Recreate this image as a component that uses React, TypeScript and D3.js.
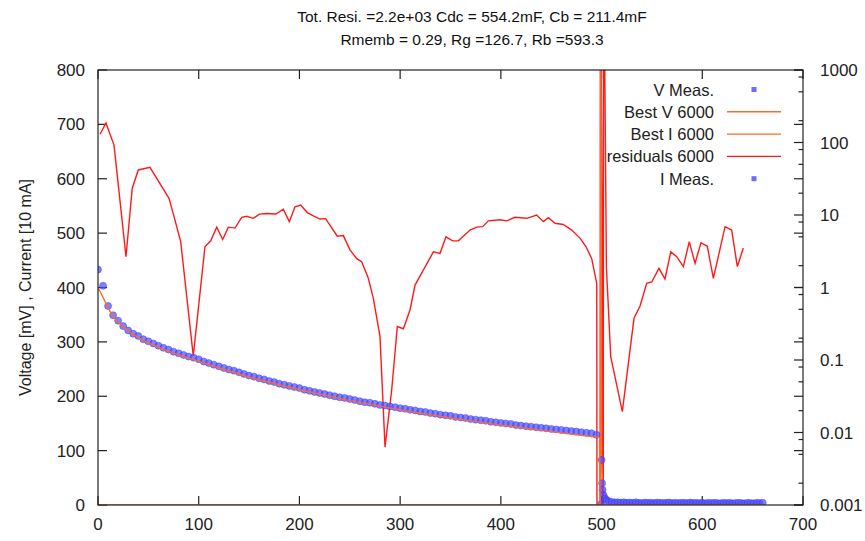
import * as d3 from "d3";

// measured voltage, one sample every 5 s from t = 0
const vMeas = [
  433, 403, 366, 349, 339, 329, 321, 315, 311, 305, 301, 297, 293, 289, 286, 282, 279, 276, 273, 271,
  268, 264, 261, 258, 255, 252, 249, 247, 244, 241, 238, 236, 233, 231, 228, 226, 223, 221, 219, 217,
  215, 212, 210, 208, 206, 204, 202, 200, 198, 197, 195, 193, 191, 189, 188, 186, 184, 183, 181, 180,
  178, 177, 175, 174, 172, 171, 169, 168, 166, 165, 164, 162, 161, 160, 158, 157, 156, 155, 153, 152,
  151, 150, 149, 147, 146, 145, 144, 143, 142, 141, 140, 139, 138, 137, 136, 135, 134, 133, 132, 129,
];

// measured current head [t, value], then a tail sampled every 3 s from t = 516
const iHead: [number, number][] = [
  [499.5, 2], [500, 83], [500.5, 40], [501, 28], [502, 18], [503.5, 12], [505, 9], [507, 7], [510, 5.5], [513, 5],
];
const iTail = [
  5, 4.5, 5, 4, 4.5, 4, 5, 4, 3.5, 4.5, 4, 4, 3.5, 4.5, 4, 3.5, 4, 4.5, 3.5, 4, 3.5, 4, 4, 3.5, 4.5,
  3.5, 4, 3.5, 4, 3, 4, 3.5, 4, 3.5, 3, 4, 3.5, 4, 3, 3.5, 4, 3.5, 3, 4, 3.5, 3, 4, 3.5, 4,
];

// fitted voltage [t, value]
const bestV: [number, number][] = [
  [0, 400], [5, 382], [10, 362], [15, 347], [20, 336], [30, 320], [40, 308], [50, 298], [60, 290], [80, 276],
  [100, 264], [150, 235], [200, 212], [250, 192], [300, 175], [350, 160], [400, 147], [450, 135], [498, 124],
  [498.5, 0], [660, 0],
];

// fitted current [t, value]
const bestI: [number, number][] = [
  [0, 0], [499, 0], [499.3, 1000], [500, 90], [501, 45], [502, 28], [504, 16], [507, 9], [512, 5], [520, 4.2],
  [560, 3.8], [660, 3.5],
];

// residuals [t, value] on the log axis
const residuals: [number, number][] = [
  [2, 130], [7.9, 186], [15.9, 92], [27.8, 2.66], [34, 23.4], [40, 41.8], [51.6, 45.5], [70.5, 17], [75.5, 9.5],
  [82.1, 4.3], [94.6, 0.114], [106.2, 3.65], [111.9, 4.4], [117.9, 6.8], [123.8, 4.6], [129.4, 6.8], [136, 6.6],
  [142.7, 9.3], [147.6, 9.6], [154.2, 9.0], [160.2, 10.3], [167.5, 10.5], [176.7, 10.3], [184, 12], [190, 8.1],
  [195.6, 13], [201.3, 13.7], [207.8, 10.8], [213.8, 9.7], [220.4, 8.8], [226, 8.9], [237.6, 5.1], [243.6, 5.2],
  [250.2, 3.3], [256.9, 2.5], [261.8, 2.27], [268.4, 1.34], [273.4, 0.71], [280, 0.21], [285, 0.0063],
  [291.6, 0.0386], [297.2, 0.29], [303.2, 0.27], [309.8, 0.49], [314.8, 1.08], [323, 1.74], [333, 3.1],
  [339.6, 2.96], [345.5, 5.0], [352.2, 4.4], [357.8, 4.4], [369.4, 6.2], [376, 6.8], [382, 6.9], [387.5, 8.3],
  [399.2, 8.6], [405.8, 8.3], [414, 9.3], [425.7, 9.0], [435.6, 10], [442.2, 8.1], [447.1, 9.2], [453.8, 7.7],
  [462, 7.4], [470.4, 6.2], [478.6, 4.8], [484.6, 3.65], [490.2, 2.5], [495.2, 1.14], [495.6, 1e-5],
  [498.5, 1e-5], [498.8, 1e5], [500.6, 9], [500.9, 1e-5], [501.6, 1e-5], [502, 1e5], [504.8, 1.9],
  [509.1, 0.111], [520.6, 0.0194], [532.2, 0.376], [538.2, 0.556], [544.8, 1.14], [549.8, 1.19], [557, 1.84],
  [563, 1.31], [568.7, 3.1], [574.6, 2.66], [581.2, 1.94], [587.1, 4.3], [592.8, 2.16], [598.7, 4.15],
  [605, 3.7], [611, 1.34], [622.6, 6.9], [629.2, 6.2], [634.8, 1.94], [640.7, 3.5],
];

const xTicks = [0, 100, 200, 300, 400, 500, 600, 700];
const yTicks = [0, 100, 200, 300, 400, 500, 600, 700, 800];
const y2Ticks = [0.001, 0.01, 0.1, 1, 10, 100, 1000];
const y2TickLabels = ["0.001", "0.01", "0.1", "1", "10", "100", "1000"];
const y2Minor = [2, 5, 8];

const titleLines = [
  "Tot. Resi. =2.2e+03 Cdc = 554.2mF, Cb = 211.4mF",
  "Rmemb = 0.29, Rg =126.7, Rb =593.3",
];
const legendItems = [
  { label: "V Meas.", kind: "point" },
  { label: "Best V 6000", kind: "line", color: "#ff6a2a" },
  { label: "Best I 6000", kind: "line", color: "#ff6a2a" },
  { label: "residuals 6000", kind: "line", color: "#ff1a1a" },
  { label: "I Meas.", kind: "point" },
];

const W = 865;
const H = 541;
const m = { left: 98, right: 803, top: 70, bottom: 505 };
const font = "'Liberation Sans', Arial, sans-serif";
const ink = "#222";
const dotFill = "#5252ff";
const dotStroke = "#3030ff";

export default function App() {
  const x = d3.scaleLinear().domain([0, 700]).range([m.left, m.right]);
  const y = d3.scaleLinear().domain([0, 800]).range([m.bottom, m.top]);
  const y2 = d3.scaleLog().domain([0.001, 1000]).range([m.bottom, m.top]);

  const vPts = vMeas.map((v, i) => [i * 5, v] as [number, number]);
  const iPts = iHead.concat(iTail.map((v, i) => [516 + i * 3, v] as [number, number]));

  const line = d3.line<[number, number]>().x(d => x(d[0])).y(d => y(d[1]));
  const line2 = d3
    .line<[number, number]>()
    .x(d => x(d[0]))
    .y(d => y2(d[1]));

  const minorLog: number[] = [];
  y2Ticks.slice(0, -1).forEach(t => y2Minor.forEach(k => minorLog.push(t * k)));

  const major = 9;
  const minor = 4.5;

  return (
    <svg
      width={W}
      height={H}
      style={{ position: "absolute", left: 0, top: 0, background: "#fff" }}
      fontFamily={font}
    >
      <defs>
        <clipPath id="plot">
          <rect x={m.left} y={m.top} width={m.right - m.left} height={m.bottom - m.top} />
        </clipPath>
      </defs>

      {/* title */}
      {titleLines.map((t, i) => (
        <text key={t} x={472} y={22 + i * 23} textAnchor="middle" fontSize={15.5} fill="#111">
          {t}
        </text>
      ))}

      {/* y label */}
      <text
        transform={`translate(31,${(m.top + m.bottom) / 2}) rotate(-90)`}
        textAnchor="middle"
        fontSize={16}
        fill={ink}
      >
        Voltage [mV] , Current [10 mA]
      </text>

      {/* ticks */}
      <g stroke={ink} strokeWidth={1.2}>
        {xTicks.map(t => (
          <g key={"x" + t}>
            <line x1={x(t)} x2={x(t)} y1={m.bottom} y2={m.bottom - major} />
            <line x1={x(t)} x2={x(t)} y1={m.top} y2={m.top + major} />
          </g>
        ))}
        {yTicks.map(t => (
          <g key={"y" + t}>
            <line x1={m.left} x2={m.left + major} y1={y(t)} y2={y(t)} />
            <line x1={m.right} x2={m.right - major} y1={y(t)} y2={y(t)} />
          </g>
        ))}
        {y2Ticks.map(t => (
          <line key={"y2" + t} x1={m.right} x2={m.right - major} y1={y2(t)} y2={y2(t)} />
        ))}
        {minorLog.map(t => (
          <line key={"m" + t} x1={m.right} x2={m.right - minor} y1={y2(t)} y2={y2(t)} />
        ))}
      </g>

      {/* tick labels */}
      <g fontSize={17} fill={ink}>
        {xTicks.map(t => (
          <text key={"xl" + t} x={x(t)} y={530} textAnchor="middle">
            {t}
          </text>
        ))}
        {yTicks.map(t => (
          <text key={"yl" + t} x={85} y={y(t) + 6} textAnchor="end">
            {t}
          </text>
        ))}
        {y2Ticks.map((t, i) => (
          <text key={"y2l" + t} x={820} y={y2(t) + 6} textAnchor="start">
            {y2TickLabels[i]}
          </text>
        ))}
      </g>

      {/* data */}
      <g clipPath="url(#plot)">
        <path d={line2(residuals) ?? ""} fill="none" stroke="#ff1a1a" strokeWidth={1.4} />
        <path d={line(bestI) ?? ""} fill="none" stroke="#ff6a2a" strokeWidth={1.4} />
        {vPts.concat(iPts).map((d, i) => (
          <circle
            key={i}
            cx={x(d[0])}
            cy={y(d[1])}
            r={3.5}
            fill={dotFill}
            fillOpacity={0.72}
            stroke={dotStroke}
            strokeOpacity={0.55}
            strokeWidth={0.8}
          />
        ))}
        <path d={line(bestV) ?? ""} fill="none" stroke="#ff6a2a" strokeWidth={1.4} />
      </g>

      {/* legend */}
      {legendItems.map((it, i) => {
        const cy = 89.5 + i * 22.3;
        return (
          <g key={it.label}>
            <text x={714} y={cy + 6} textAnchor="end" fontSize={16.5} fill={ink}>
              {it.label}
            </text>
            {it.kind === "line" ? (
              <line x1={727} x2={781} y1={cy} y2={cy} stroke={it.color} strokeWidth={1.4} />
            ) : (
              <rect x={751.5} y={cy - 2.5} width={5} height={5} fill={dotFill} fillOpacity={0.85} />
            )}
          </g>
        );
      })}

      {/* border */}
      <rect
        x={m.left}
        y={m.top}
        width={m.right - m.left}
        height={m.bottom - m.top}
        fill="none"
        stroke={ink}
        strokeWidth={1.2}
      />
    </svg>
  );
}
